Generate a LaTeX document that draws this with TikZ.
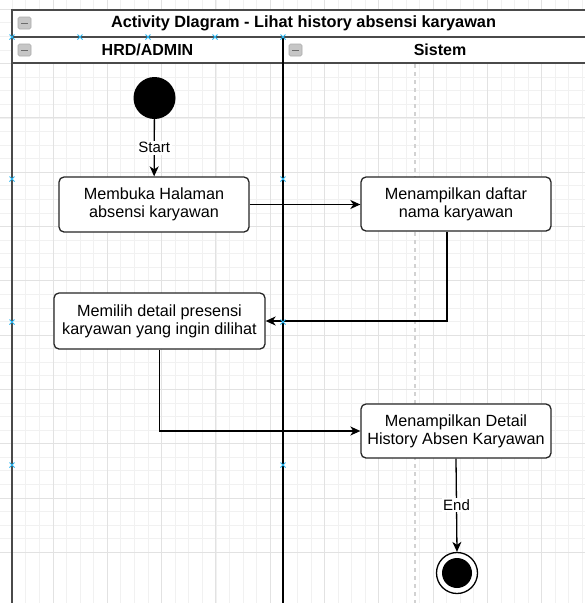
\documentclass[tikz,border=0pt]{standalone}
\usepackage{fontspec}
\setmainfont{Liberation Sans}
\usetikzlibrary{arrows.meta}
\definecolor{gridminor}{HTML}{F1F1F1}
\definecolor{gridmajor}{HTML}{E2E2E2}
\definecolor{poolline}{HTML}{4A4A4A}
\definecolor{handle}{HTML}{29B6F2}
\begin{document}
\begin{tikzpicture}[x=1pt,y=-1pt,
  act/.style={draw=black!85, line width=1.3pt, rounded corners=5pt, fill=white,
    align=center, font=\fontsize{16.2}{18.2}\selectfont, inner sep=0pt},
  flow/.style={line width=1.3pt, -{Stealth[length=10pt,width=9pt,inset=3pt]}},
  lbl/.style={fill=white, font=\fontsize{15}{16}\selectfont, inner sep=1.5pt},
  icon/.style={fill=gray!45, draw=gray!65, line width=0.6pt, rounded corners=1.5pt},
  handlemark/.style={draw=handle, line width=1pt}]
\useasboundingbox (0,0) rectangle (585,603);
\begin{scope}
\clip (0,0) rectangle (585,603);
% background grid: minor every 13.575, major every fourth line
\fill[white] (0,0) rectangle (585,603);
\foreach \i in {0,...,44} {
  \pgfmathsetmacro{\gx}{-1.3+13.575*\i}
  \pgfmathsetmacro{\gy}{-45+13.575*\i}
  \draw[gridminor, line width=0.8pt] (\gx,0) -- (\gx,603);
  \draw[gridminor, line width=0.8pt] (0,\gy) -- (585,\gy);
}
\foreach \i in {0,...,11} {
  \pgfmathsetmacro{\gx}{-1.3+54.3*\i}
  \pgfmathsetmacro{\gy}{-45+54.3*\i}
  \draw[gridmajor, line width=0.9pt] (\gx,0) -- (\gx,603);
  \draw[gridmajor, line width=0.9pt] (0,\gy) -- (585,\gy);
}
% pool and lane headers
\fill[white] (12,10) rectangle (600,63);
\draw[poolline, line width=1.6pt] (12,650) -- (12,10) -- (600,10);
\draw[poolline, line width=1.6pt] (12,37) -- (600,37);
\draw[poolline, line width=1.6pt] (12,63) -- (600,63);
\draw[black, line width=1.4pt] (283,37) -- (283,650);
\draw[gray!35, line width=1.5pt, dash pattern=on 4pt off 4pt] (415,64) -- (415,650);
% collapse icons
\draw[icon] (18,17) rectangle (31,29);
\draw[gray!85!black, line width=1pt] (21,23) -- (28,23);
\draw[icon] (18,44) rectangle (31,56);
\draw[gray!85!black, line width=1pt] (21,50) -- (28,50);
\draw[icon] (289,44) rectangle (302,56);
\draw[gray!85!black, line width=1pt] (292,50) -- (299,50);
\node[font=\bfseries\fontsize{16.3}{18}\selectfont] (title) at (303.5,23.5) {Activity DIagram - Lihat history absensi karyawan};
\node[font=\bfseries\fontsize{16}{18}\selectfont] (lane1) at (147.5,50) {HRD/ADMIN};
\node[font=\bfseries\fontsize{16}{18}\selectfont] (lane2) at (440,50) {Sistem};
\end{scope}
% activities
\node[circle, fill=black, minimum size=42pt, inner sep=0pt] (start) at (154.5,98) {};
\node[act, minimum width=190pt, minimum height=55pt] (a1) at (154,204.5) {Membuka Halaman\\absensi karyawan};
\node[act, minimum width=190pt, minimum height=54pt] (a2) at (456,204) {Menampilkan daftar\\nama karyawan};
\node[act, minimum width=211pt, minimum height=56pt] (a3) at (159.5,321) {Memilih detail presensi\\karyawan yang ingin dilihat};
\node[act, minimum width=190pt, minimum height=54pt] (a4) at (456,431) {Menampilkan Detail\\History Absen Karyawan};
\node[circle, draw=black, line width=1.3pt, fill=white, minimum size=41pt, inner sep=0pt] (fin) at (457,573) {};
\node[circle, fill=black, minimum size=30pt, inner sep=0pt] (fincore) at (fin.center) {};
% flows
\draw[flow] (start) -- node[lbl] {Start} (a1);
\draw[flow] (a1.east) -- (a1.east -| a2.west);
\draw[flow] ([xshift=-9pt]a2.south) |- (a3.east);
\draw[flow] (a3.south) |- (a4.west);
\draw[flow] (a4.south) -- node[lbl, pos=0.5] {End} (fin.north);
% selection handles
\foreach \hx/\hy in {12/37, 80/37, 148/37, 215/37, 283/37, 12/179, 283/179,
                     12/322, 283/322, 12/465, 283/465} {
  \draw[handlemark] (\hx-2.5,\hy-2.5) -- (\hx+2.5,\hy+2.5);
  \draw[handlemark] (\hx-2.5,\hy+2.5) -- (\hx+2.5,\hy-2.5);
}
\end{tikzpicture}
\end{document}
